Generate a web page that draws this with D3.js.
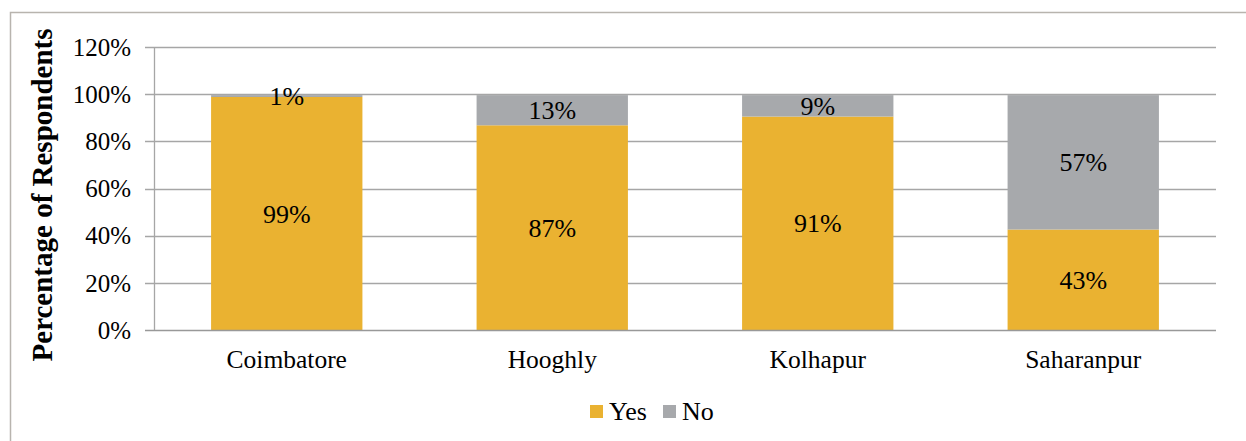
<!DOCTYPE html>
<html><head><meta charset="utf-8">
<script src="https://cdn.jsdelivr.net/npm/d3@7"></script>
<style>body{margin:0;background:#fff}svg{display:block}</style>
</head><body><svg id="c" width="1246" height="441" font-family="'Liberation Serif', 'Times New Roman', Times, serif"></svg>
<script>
const categories = ["Coimbatore","Hooghly","Kolhapur","Saharanpur"];
const yesValues = [98.8, 86.8, 90.5, 42.6];
const noValues = [0.8, 12.8, 9.1, 57.0];
const yesLabels = ["99%","87%","91%","43%"];
const noLabels = ["1%","13%","9%","57%"];
const yTicks = [0,20,40,60,80,100,120];
const seriesNames = ["Yes","No"];
const colors = {Yes:"#EAB231", No:"#A7A9AC"};

const svg = d3.select("#c");
svg.append("rect").attr("x",10.5).attr("y",12.5).attr("width",1250).attr("height",450)
  .attr("fill","none").attr("stroke","#B8B4AE").attr("stroke-width",1.5);

const L=154, R=1216, T=47, B=330;
const x = d3.scaleBand().domain(categories).range([L,R]).paddingInner(0.43).paddingOuter(0.215);
const y = d3.scaleLinear().domain([0,120]).range([B,T]);

svg.append("g").selectAll("line").data(yTicks.filter(d=>d>0)).join("line")
  .attr("x1",L-9).attr("x2",R).attr("y1",d=>Math.round(y(d))+0.5).attr("y2",d=>Math.round(y(d))+0.5)
  .attr("stroke","#A6A6A6").attr("stroke-width",1.3);

const data = categories.map((c,i)=>({cat:c, Yes:yesValues[i], No:noValues[i], yl:yesLabels[i], nl:noLabels[i]}));
const stack = d3.stack().keys(seriesNames)(data);

const g = svg.append("g");
stack.forEach(s=>{
  g.selectAll(null).data(s).join("rect")
    .attr("x",d=>x(d.data.cat)).attr("width",x.bandwidth())
    .attr("y",d=>y(d[1])).attr("height",d=>y(d[0])-y(d[1]))
    .attr("fill",colors[s.key]);
});
stack.forEach(s=>{
  g.selectAll(null).data(s).join("text")
    .attr("x",d=>x(d.data.cat)+x.bandwidth()/2)
    .attr("y",d=>(y(d[0])+y(d[1]))/2)
    .attr("dy","0.35em").attr("text-anchor","middle").attr("font-size",26)
    .text(d=> s.key==="Yes" ? d.data.yl : d.data.nl);
});

svg.append("line").attr("x1",L-9).attr("x2",R).attr("y1",B+0.5).attr("y2",B+0.5).attr("stroke","#999").attr("stroke-width",1.5);
svg.append("line").attr("x1",L+0.5).attr("x2",L+0.5).attr("y1",T).attr("y2",B).attr("stroke","#A6A6A6").attr("stroke-width",1.3);

svg.append("g").selectAll("text").data(yTicks).join("text")
  .attr("x",L-23).attr("y",d=>y(d)).attr("dy","0.35em").attr("text-anchor","end").attr("font-size",25)
  .text(d=>d+"%");

svg.append("g").selectAll("text").data(categories).join("text")
  .attr("x",d=>x(d)+x.bandwidth()/2).attr("y",368).attr("text-anchor","middle").attr("font-size",25.5)
  .text(d=>d);

svg.append("text").attr("transform","translate(52,195) rotate(-90)").attr("text-anchor","middle")
  .attr("font-size",29).attr("font-weight","bold").text("Percentage of Respondents");

const leg = svg.append("g");
const items = [{k:"Yes",x:590},{k:"No",x:663}];
items.forEach(it=>{
  leg.append("rect").attr("x",it.x).attr("y",405).attr("width",13).attr("height",13).attr("fill",colors[it.k]);
  leg.append("text").attr("x",it.x+19).attr("y",420).attr("font-size",26).text(it.k);
});
</script></body></html>
